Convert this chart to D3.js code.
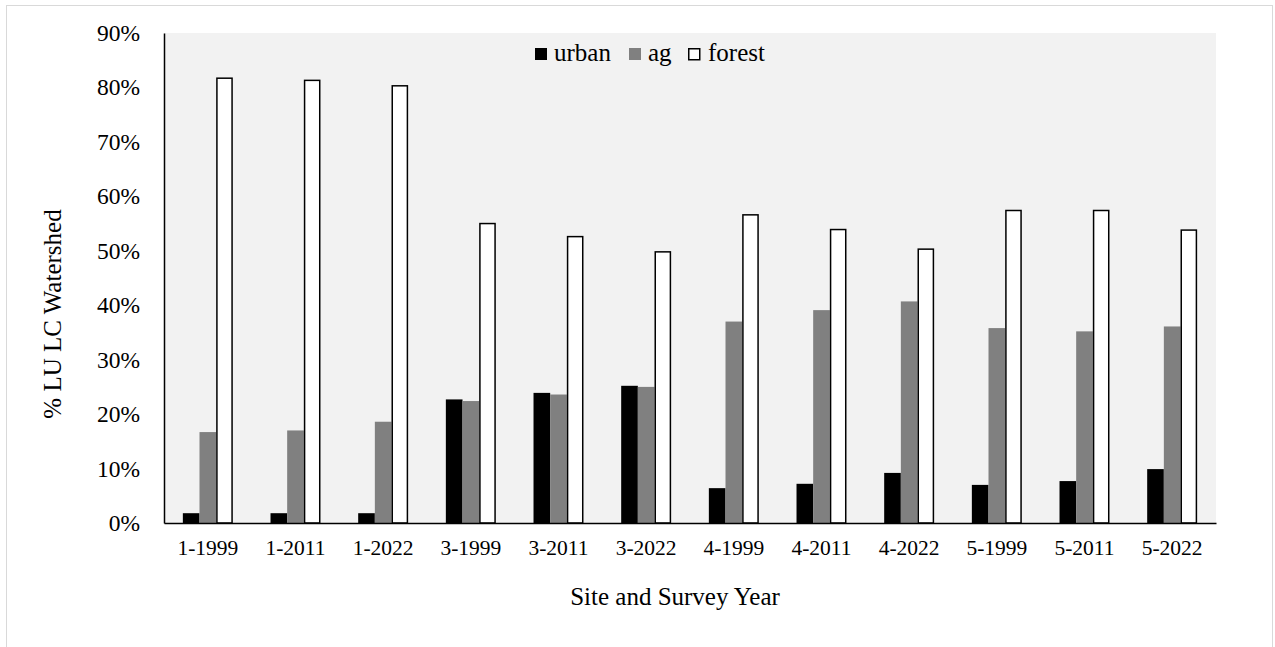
<!DOCTYPE html>
<html>
<head>
<meta charset="utf-8">
<script src="https://cdn.jsdelivr.net/npm/d3@7"></script>
<style>
  html, body { margin: 0; padding: 0; background: #fff; }
  svg { display: block; }
  text { font-family: "Liberation Serif", "Times New Roman", serif; fill: #000; }
</style>
</head>
<body>
<svg id="chart" width="1275" height="647"></svg>
<script>
const categories = ["1-1999","1-2011","1-2022","3-1999","3-2011","3-2022","4-1999","4-2011","4-2022","5-1999","5-2011","5-2022"];
const seriesNames = ["urban","ag","forest"];
const urban  = [1.8, 1.8, 1.8, 22.7, 23.9, 25.2, 6.4, 7.2, 9.2, 7.0, 7.7, 9.9];
const ag     = [16.7, 17.0, 18.6, 22.4, 23.6, 25.0, 37.0, 39.1, 40.7, 35.8, 35.2, 36.1];
const forest = [81.7, 81.3, 80.3, 55.0, 52.6, 49.8, 56.6, 53.9, 50.3, 57.4, 57.4, 53.8];
const yTicks = [0, 10, 20, 30, 40, 50, 60, 70, 80, 90];
const xTitle = "Site and Survey Year";
const yTitle = "% LU LC Watershed";

const seriesValues = {urban, ag, forest};
const fills = {urban: "#000000", ag: "#808080", forest: "#ffffff"};

const svg = d3.select("#chart");
const m = {left: 164, right: 1216, top: 33, bottom: 523};

// outer frame
svg.append("rect").attr("x", 6.5).attr("y", 5.5).attr("width", 1266).attr("height", 660)
  .attr("fill", "#fff").attr("stroke", "#d9d9d9").attr("stroke-width", 1);

// plot background
svg.append("rect").attr("x", m.left).attr("y", m.top)
  .attr("width", m.right - m.left).attr("height", m.bottom - m.top).attr("fill", "#f2f2f2");

const x0 = d3.scaleBand().domain(categories).range([m.left, m.right]).paddingInner(0.43).paddingOuter(0.215);
const x1 = d3.scaleBand().domain(seriesNames).range([0, x0.bandwidth()]).padding(0);
const y = d3.scaleLinear().domain([0, 90]).range([m.bottom, m.top]);

const groups = svg.append("g").selectAll("g").data(categories).join("g")
  .attr("transform", d => `translate(${x0(d)},0)`);

groups.selectAll("rect").data((d, i) => seriesNames.map(s => ({s, v: seriesValues[s][i]})))
  .join("rect")
  .attr("x", d => x1(d.s) + (d.s === "forest" ? 0.75 : 0))
  .attr("width", d => x1.bandwidth() - (d.s === "forest" ? 1.5 : 0))
  .attr("y", d => y(d.v))
  .attr("height", d => y(0) - y(d.v))
  .attr("fill", d => fills[d.s])
  .attr("stroke", d => d.s === "forest" ? "#000" : "none")
  .attr("stroke-width", 1.5);

// y axis
const yAxis = svg.append("g").attr("transform", `translate(${m.left},0)`)
  .call(d3.axisLeft(y).tickValues(yTicks).tickSize(0).tickPadding(24).tickFormat(d => d + "%"));
yAxis.select(".domain").attr("stroke", "#000").attr("stroke-width", 1.5);
yAxis.selectAll("text").style("font-size", "23.5px").style("font-family", "Liberation Serif");

// x axis
const xAxis = svg.append("g").attr("transform", `translate(0,${m.bottom})`)
  .call(d3.axisBottom(x0).tickSize(0).tickPadding(16.5));
xAxis.select(".domain").attr("stroke", "#000").attr("stroke-width", 1.5);
xAxis.selectAll("text").style("font-size", "21.5px").style("font-family", "Liberation Serif");

// axis titles
svg.append("text").attr("x", 675).attr("y", 605)
  .attr("text-anchor", "middle").style("font-size", "25px").text(xTitle);
svg.append("text").attr("transform", `translate(61,314) rotate(-90)`)
  .attr("text-anchor", "middle").style("font-size", "25px").text(yTitle);

// legend
const legendX = [535, 629, 688];
const legend = svg.append("g").selectAll("g").data(seriesNames).join("g")
  .attr("transform", (d, i) => `translate(${legendX[i]},48)`);
legend.append("rect")
  .attr("x", d => d === "forest" ? 0.75 : 0).attr("y", d => d === "forest" ? 0.75 : 0)
  .attr("width", d => d === "forest" ? 11 : 12).attr("height", d => d === "forest" ? 11 : 12)
  .attr("fill", d => fills[d]).attr("stroke", d => d === "forest" ? "#000" : "none").attr("stroke-width", 1.5);
legend.append("text").attr("x", d => d === "forest" ? 20 : 19).attr("y", 13)
  .style("font-size", "25px").text(d => d);
</script>
</body>
</html>
